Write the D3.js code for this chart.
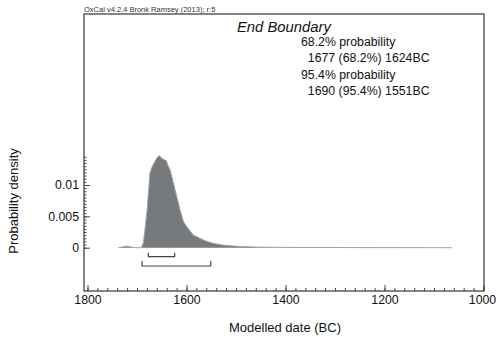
<!DOCTYPE html>
<html>
<head>
<meta charset="utf-8">
<script src="https://cdn.jsdelivr.net/npm/d3@7"></script>
<style>
  body { margin: 0; background: #fff; }
  text { font-family: "Liberation Sans", Arial, sans-serif; fill: #111; }
</style>
</head>
<body>
<div id="chart"></div>
<script>
// posterior density of the End Boundary
var years = [1738, 1730, 1720, 1712, 1704, 1691, 1687, 1683, 1679, 1674, 1670, 1664, 1660, 1655, 1652,
    1647, 1641, 1637, 1633, 1628, 1623, 1617, 1613, 1606, 1597, 1586, 1577, 1566, 1557, 1546,
    1532, 1519, 1492, 1462, 1411, 1270, 1064];
var density = [0, 0.0001, 0.00025, 0.0001, 0, 0, 0.0008, 0.0035, 0.0065, 0.0119, 0.0128, 0.0137, 0.01426, 0.0147, 0.0144,
    0.0141, 0.0139, 0.0130, 0.0124, 0.0108, 0.0092, 0.0073, 0.0060, 0.0041, 0.0031, 0.0020, 0.00166, 0.00123, 0.00096, 0.0007,
    0.00048, 0.00035, 0.0002, 0.0001, 0.00005, 0.00002, 0];

// highest posterior density ranges
var ranges68 = [[1677, 1624]];
var ranges95 = [[1690, 1551]];

var xTicks = [1800, 1600, 1400, 1200, 1000];
var yTicks = [0, 0.005, 0.01];

var infoLines = ["68.2% probability", "  1677 (68.2%) 1624BC", "95.4% probability", "  1690 (95.4%) 1551BC"];

var width = 496,
    height = 337;

var svg = d3.select("#chart").append("svg")
    .attr("width", width)
    .attr("height", height);

var frame = {left: 84, right: 484, top: 14, bottom: 291};

var x = d3.scaleLinear().domain([1800, 1000]).range([87.5, 483.5]);
var y = d3.scaleLinear().domain([0, 0.01]).range([247.7, 185]);

// header
svg.append("text")
    .attr("x", frame.left)
    .attr("y", 11.5)
    .style("font-size", "7.5px")
    .style("fill", "#333")
    .text("OxCal v4.2.4 Bronk Ramsey (2013); r:5");

// density curve
var pts = years.map(function (d, i) { return [d, density[i]]; });

var area = d3.area()
    .x(function (d) { return x(d[0]); })
    .y0(y(0))
    .y1(function (d) { return y(d[1]); });

svg.append("path")
    .datum(pts)
    .attr("d", area)
    .style("fill", "#767a7c");

svg.append("path")
    .datum(pts)
    .attr("d", d3.line().x(function (d) { return x(d[0]); }).y(function (d) { return y(d[1]); }))
    .style("fill", "none")
    .style("stroke", "#a0a3a5")
    .style("stroke-width", 1);

// range brackets
function bracket(r, yy, h) {
    r.forEach(function (d) {
        svg.append("path")
            .attr("d", "M" + x(d[0]) + "," + (yy - h) + "V" + yy + "H" + x(d[1]) + "V" + (yy - h))
            .style("fill", "none")
            .style("stroke", "#444")
            .style("stroke-width", 1.2);
    });
}
bracket(ranges68, y(0) + 9, 4);
bracket(ranges95, y(0) + 18.3, 5);

// frame
svg.append("rect")
    .attr("x", frame.left)
    .attr("y", frame.top)
    .attr("width", frame.right - frame.left)
    .attr("height", frame.bottom - frame.top)
    .style("fill", "none")
    .style("stroke", "#444")
    .style("stroke-width", 1.3);

// x axis
var xMinor = svg.append("g")
    .attr("transform", "translate(0," + frame.bottom + ")")
    .call(d3.axisBottom(x).tickValues(d3.range(1800, 999, -20)).tickSize(-3).tickFormat(""));
var xAxis = svg.append("g")
    .attr("transform", "translate(0," + frame.bottom + ")")
    .call(d3.axisBottom(x).tickValues(xTicks).tickSize(-6).tickPadding(4).tickFormat(d3.format("d")));

// y axis
var yMinor = svg.append("g")
    .attr("transform", "translate(" + frame.left + ",0)")
    .call(d3.axisLeft(y).tickValues(d3.range(0, 0.01451, 0.0005)).tickSize(-2.5).tickFormat(""));
var yAxis = svg.append("g")
    .attr("transform", "translate(" + frame.left + ",0)")
    .call(d3.axisLeft(y).tickValues(yTicks).tickSize(-6).tickPadding(5).tickFormat(function (d) { return d === 0 ? "0" : String(+d.toFixed(3)); }));

[xMinor, xAxis, yMinor, yAxis].forEach(function (g) {
    g.select(".domain").remove();
    g.selectAll("line").style("stroke", "#444").style("stroke-width", 1);
    g.selectAll("text").style("font-size", "12.3px").style("fill", "#111").attr("font-family", null);
});

// keep the last year label inside the window
xAxis.selectAll("text").filter(function (d) { return d === 1000; }).attr("dx", "-1.5");

// axis titles
svg.append("text")
    .attr("x", 285)
    .attr("y", 331.5)
    .attr("text-anchor", "middle")
    .style("font-size", "13px")
    .text("Modelled date (BC)");

svg.append("text")
    .attr("transform", "translate(18,201) rotate(-90)")
    .attr("text-anchor", "middle")
    .style("font-size", "13px")
    .text("Probability density");

// info text
svg.append("text")
    .attr("x", 237)
    .attr("y", 32)
    .style("font-size", "14.8px")
    .style("font-style", "italic")
    .text("End Boundary");

svg.append("g").selectAll("text")
    .data(infoLines)
    .enter().append("text")
    .attr("x", 301)
    .attr("y", function (d, i) { return 45.7 + i * 16.45; })
    .style("font-size", "12.3px")
    .style("white-space", "pre")
    .attr("xml:space", "preserve")
    .text(function (d) { return d; });
</script>
</body>
</html>
